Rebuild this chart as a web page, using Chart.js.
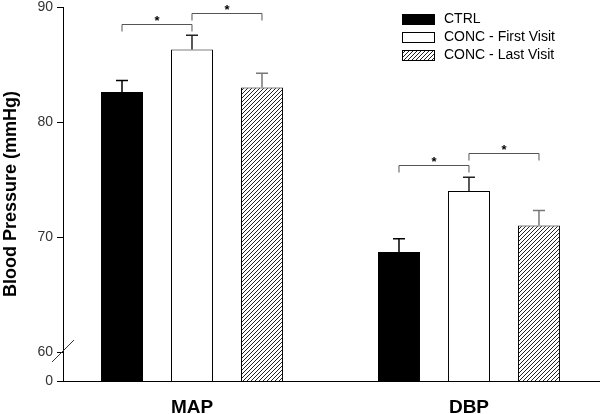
<!DOCTYPE html>
<html>
<head>
<meta charset="utf-8">
<script src="https://cdn.jsdelivr.net/npm/chart.js@4.4.0/dist/chart.umd.min.js"></script>
<style>body{margin:0;background:#fff}</style>
</head>
<body>
<canvas id="bpChart" width="600" height="414"></canvas>
<script>
// Data
const categories = ['MAP', 'DBP'];
const seriesNames = ['CTRL', 'CONC - First Visit', 'CONC - Last Visit'];
const ctrlValues = [82.6, 68.7];
const ctrlErrors = [1.0, 1.15];
const firstVisitValues = [86.3, 74.0];
const firstVisitErrors = [1.25, 1.2];
const lastVisitValues = [83.0, 71.0];
const lastVisitErrors = [1.25, 1.3];
const yTickValues = [60, 70, 80, 90];
const axisFloor = 57.48;   // where the "0" tick sits below the axis break
// significance brackets: [category, from series, to series, height]
const sigBrackets = [[0, 0, 1, 88.5], [0, 1, 2, 89.45], [1, 0, 1, 76.3], [1, 1, 2, 77.3]];

Chart.defaults.font.family = '"Liberation Sans", Arial, sans-serif';

function makeHatch() {
    const c = document.createElement('canvas');
    c.width = 4; c.height = 4;
    const g = c.getContext('2d');
    g.fillStyle = '#fff';
    g.fillRect(0, 0, 4, 4);
    g.strokeStyle = '#222';
    g.lineWidth = 1;
    g.beginPath();
    g.moveTo(-1, 5); g.lineTo(5, -1);
    g.moveTo(-1, 1); g.lineTo(1, -1);
    g.moveTo(3, 5); g.lineTo(5, 3);
    g.stroke();
    return g.createPattern(c, 'repeat');
}
const hatch = makeHatch();

const errorSets = [ctrlErrors, firstVisitErrors, lastVisitErrors];
const errorColors = ['#000', '#222', '#777'];

const errorBarPlugin = {
    id: 'errorBars',
    afterDatasetsDraw(chart) {
        const ctx = chart.ctx;
        const y = chart.scales.y;
        ctx.save();
        chart.data.datasets.forEach((ds, i) => {
            chart.getDatasetMeta(i).data.forEach((bar, j) => {
                const top = y.getPixelForValue(ds.data[j] + errorSets[i][j]);
                ctx.strokeStyle = errorColors[i];
                ctx.lineWidth = 1.5;
                ctx.beginPath();
                ctx.moveTo(bar.x, bar.y);
                ctx.lineTo(bar.x, top);
                ctx.moveTo(bar.x - 6, top);
                ctx.lineTo(bar.x + 6, top);
                ctx.stroke();
            });
        });
        // brackets with asterisks
        ctx.strokeStyle = '#555';
        ctx.lineWidth = 1;
        ctx.fillStyle = '#000';
        ctx.font = 'bold 13px "Liberation Sans", Arial';
        ctx.textAlign = 'center';
        ctx.textBaseline = 'bottom';
        sigBrackets.forEach(([cat, a, b, h]) => {
            const x1 = chart.getDatasetMeta(a).data[cat].x;
            const x2 = chart.getDatasetMeta(b).data[cat].x;
            const py = Math.round(y.getPixelForValue(h)) + 0.5;
            ctx.beginPath();
            ctx.moveTo(x1, py + 7); ctx.lineTo(x1, py);
            ctx.lineTo(x2, py); ctx.lineTo(x2, py + 7);
            ctx.stroke();
            ctx.fillText('*', (x1 + x2) / 2, py + 3);
        });
        // axis break mark
        const by = y.getPixelForValue(60);
        const ax = chart.chartArea.left;
        ctx.strokeStyle = '#333';
        ctx.beginPath();
        ctx.moveTo(ax - 11, by + 10);
        ctx.lineTo(ax + 11, by - 12);
        ctx.stroke();
        ctx.restore();
    }
};

const legendPlugin = {
    id: 'boxLegend',
    afterDraw(chart) {
        const ctx = chart.ctx;
        ctx.save();
        ctx.font = '14px "Liberation Sans", Arial';
        ctx.textBaseline = 'middle';
        ctx.textAlign = 'left';
        chart.data.datasets.forEach((ds, i) => {
            const cy = 19 + i * 18;
            ctx.fillStyle = ds.backgroundColor;
            ctx.fillRect(402, cy - 5, 33, 11);
            ctx.strokeStyle = '#000';
            ctx.lineWidth = 1;
            ctx.strokeRect(402.5, cy - 4.5, 32, 10);
            ctx.fillStyle = '#000';
            ctx.fillText(ds.label, 444, cy);
        });
        ctx.restore();
    }
};

const ctx = document.getElementById('bpChart').getContext('2d');
new Chart(ctx, {
    type: 'bar',
    data: {
        labels: categories,
        datasets: [
            { label: seriesNames[0], data: ctrlValues, backgroundColor: '#000' },
            { label: seriesNames[1], data: firstVisitValues, backgroundColor: '#fff' },
            { label: seriesNames[2], data: lastVisitValues, backgroundColor: hatch }
        ]
    },
    options: {
        responsive: false,
        animation: false,
        layout: { padding: { top: 7, right: 0, left: 0, bottom: 0 } },
        datasets: {
            bar: {
                borderColor: '#000',
                borderWidth: 1,
                categoryPercentage: 0.758,
                barPercentage: 0.6
            }
        },
        plugins: {
            legend: { display: false },
            tooltip: { enabled: false }
        },
        scales: {
            x: {
                grid: { display: false },
                border: { color: '#000', width: 1 },
                ticks: { color: '#000', font: { size: 19, weight: 'bold' }, padding: 7 },
                afterBuildTicks: s => { s._startValue = -0.4657; s._valueRange = 1.9387; },
                afterFit: s => { s.height = 33; s.paddingLeft = 0; s.paddingRight = 0; }
            },
            y: {
                min: axisFloor,
                max: 90,
                afterBuildTicks: s => { s.ticks = [axisFloor, ...yTickValues].map(v => ({ value: v })); },
                ticks: {
                    color: '#333',
                    font: { size: 14 },
                    padding: 4,
                    callback: v => (v < 60 ? '0' : v)
                },
                grid: { drawOnChartArea: false, tickLength: 6, color: '#000' },
                border: { color: '#000', width: 1 },
                title: {
                    display: true,
                    text: 'Blood Pressure (mmHg)',
                    color: '#000',
                    font: { size: 18, weight: 'bold' },
                    padding: { top: 0, bottom: 0 }
                },
                afterFit: s => { s.width = 63; s.paddingTop = 0; s.paddingBottom = 0; }
            }
        }
    },
    plugins: [errorBarPlugin, legendPlugin]
});
</script>
</body>
</html>
